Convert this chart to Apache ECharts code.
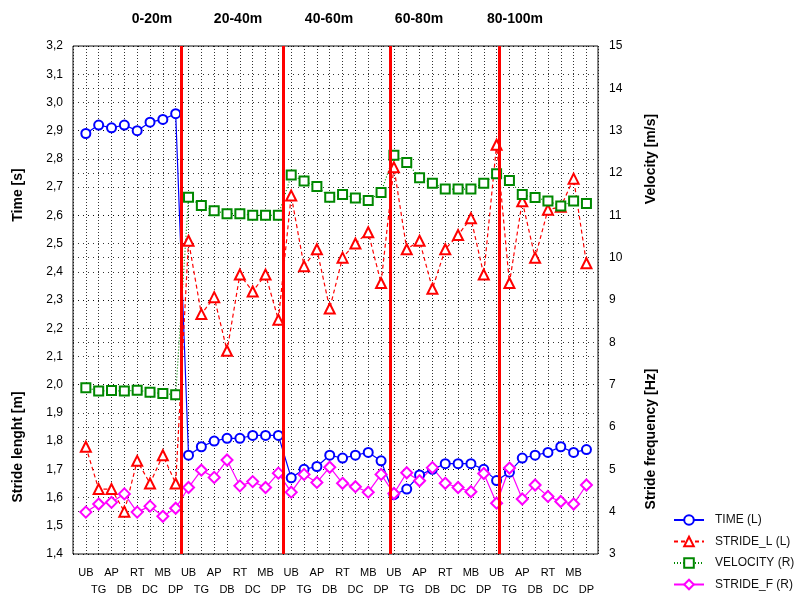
<!DOCTYPE html>
<html>
<head>
<meta charset="utf-8">
<script src="https://cdn.jsdelivr.net/npm/echarts@6/dist/echarts.min.js"></script>
<style>
html,body{margin:0;padding:0;background:#fff;}
#chart{width:808px;height:598px;}
</style>
</head>
<body>
<div id="chart"></div>
<script>
const phases = ['UB','TG','AP','DB','RT','DC','MB','DP'];
const sections = ['0-20m','20-40m','40-60m','60-80m','80-100m'];
const leftTicks = [1.4, 3.2, 0.1];
const rightTicks = [3, 15, 1];

const timeL = [
  2.89, 2.92, 2.91, 2.92, 2.90, 2.93, 2.94, 2.96,
  1.75, 1.78, 1.80, 1.81, 1.81, 1.82, 1.82, 1.82,
  1.67, 1.70, 1.71, 1.75, 1.74, 1.75, 1.76, 1.73,
  1.61, 1.63, 1.68, 1.70, 1.72, 1.72, 1.72, 1.70,
  1.66, 1.69, 1.74, 1.75, 1.76, 1.78, 1.76, 1.77
];
const strideL = [
  1.78, 1.63, 1.63, 1.55, 1.73, 1.65, 1.75, 1.65,
  2.51, 2.25, 2.31, 2.12, 2.39, 2.33, 2.39, 2.23,
  2.67, 2.42, 2.48, 2.27, 2.45, 2.50, 2.54, 2.36,
  2.77, 2.48, 2.51, 2.34, 2.48, 2.53, 2.59, 2.39,
  2.85, 2.36, 2.65, 2.45, 2.62, 2.63, 2.73, 2.43
];
const velocityR = [
  6.93, 6.85, 6.86, 6.85, 6.87, 6.82, 6.79, 6.76,
  11.43, 11.23, 11.11, 11.04, 11.04, 11.00, 11.00, 11.00,
  11.95, 11.81, 11.68, 11.43, 11.49, 11.41, 11.35, 11.54,
  12.42, 12.25, 11.89, 11.76, 11.62, 11.62, 11.62, 11.76,
  11.98, 11.82, 11.49, 11.42, 11.34, 11.22, 11.34, 11.28
];
const strideF = [
  3.99, 4.18, 4.22, 4.42, 3.99, 4.13, 3.89, 4.08,
  4.57, 4.98, 4.81, 5.22, 4.61, 4.71, 4.57, 4.91,
  4.46, 4.88, 4.69, 5.05, 4.67, 4.59, 4.46, 4.88,
  4.43, 4.92, 4.73, 5.04, 4.67, 4.57, 4.47, 4.90,
  4.20, 5.03, 4.30, 4.63, 4.36, 4.24, 4.18, 4.63
];
// section boundaries (red lines), in category-index units
const sectionBoundaries = [7.43, 15.39, 23.69, 32.17];

const categories = [];
sections.forEach(() => phases.forEach(p => categories.push(p)));
const pairs = arr => arr.map((v, i) => [i, v]);

const FONT = "'Liberation Sans', Arial, sans-serif";
const chart = echarts.init(document.getElementById('chart'), null, {renderer: 'canvas'});

const gridDot = {show: true, lineStyle: {color: '#000', type: [1, 4], width: 1, opacity: 0.8}};

const option = {
  backgroundColor: '#fff',
  animation: false,
  textStyle: {fontFamily: FONT},
  grid: {left: 73, right: 210, top: 46, bottom: 37, show: true, borderColor: '#111', borderWidth: 1, backgroundColor: 'transparent'},
  xAxis: {
    type: 'value', min: -1, max: 39.9, interval: 1,
    axisLine: {show: false}, axisTick: {show: false},
    splitLine: {show: true, lineStyle: {color: '#000', type: [1, 2], width: 1, opacity: 0.8}},
    axisLabel: {
      margin: 10, fontSize: 11, color: '#000', lineHeight: 17, fontFamily: FONT,
      formatter: v => {
        const i = Math.round(v);
        if (Math.abs(v - i) > 0.01 || i < 0 || i >= categories.length) return '';
        return i % 2 === 0 ? categories[i] : '\n' + categories[i];
      }
    }
  },
  yAxis: [
    {
      type: 'value', min: leftTicks[0], max: leftTicks[1], interval: leftTicks[2], position: 'left',
      axisLine: {show: false}, axisTick: {show: false},
      splitLine: gridDot,
      axisLabel: {margin: 10, fontSize: 12, color: '#000', fontFamily: FONT,
        formatter: v => v.toFixed(1).replace('.', ',')}
    },
    {
      type: 'value', min: rightTicks[0], max: rightTicks[1], interval: rightTicks[2], position: 'right',
      axisLine: {show: false}, axisTick: {show: false},
      splitLine: gridDot,
      axisLabel: {margin: 11, fontSize: 12, color: '#000', fontFamily: FONT}
    }
  ],
  legend: {
    orient: 'vertical', left: 668, top: 509, itemWidth: 30, itemHeight: 12, itemGap: 9.5,
    textStyle: {fontSize: 12, color: '#111', fontFamily: FONT, padding: [0, 0, 0, 6]},
    data: ['TIME (L)', 'STRIDE_L (L)', 'VELOCITY (R)', 'STRIDE_F (R)']
  },
  series: [
    {
      type: 'line', name: '__bounds', data: [], z: 1, silent: true,
      markLine: {
        silent: true, symbol: 'none', label: {show: false}, animation: false,
        lineStyle: {color: '#ff0000', width: 3, type: 'solid'},
        data: sectionBoundaries.map(x => ({xAxis: x}))
      }
    },
    {
      name: 'TIME (L)', type: 'line', yAxisIndex: 0, z: 3, data: pairs(timeL),
      symbol: 'emptyCircle', symbolSize: 9,
      lineStyle: {color: '#0000ff', width: 1.2},
      itemStyle: {color: '#0000ff', borderWidth: 1.4}
    },
    {
      name: 'STRIDE_L (L)', type: 'line', yAxisIndex: 0, z: 3, data: pairs(strideL),
      symbol: 'emptyTriangle', symbolSize: 10,
      lineStyle: {color: '#ff0000', width: 1.2, type: [4, 3]},
      itemStyle: {color: '#ff0000', borderWidth: 1.4}
    },
    {
      name: 'VELOCITY (R)', type: 'line', yAxisIndex: 1, z: 3, data: pairs(velocityR),
      symbol: 'emptyRect', symbolSize: 9,
      lineStyle: {color: '#008800', width: 1.2, type: [1, 2]},
      itemStyle: {color: '#008800', borderWidth: 1.5}
    },
    {
      name: 'STRIDE_F (R)', type: 'line', yAxisIndex: 1, z: 3, data: pairs(strideF),
      symbol: 'emptyDiamond', symbolSize: 11,
      lineStyle: {color: '#ff00ff', width: 1.2},
      itemStyle: {color: '#ff00ff', borderWidth: 1.3}
    }
  ],
  graphic: []
};

const titleX = [152, 238, 329, 419, 515];
const boldFont = "bold 14px " + FONT;
sections.forEach((s, i) => option.graphic.push({
  type: 'text', x: titleX[i], y: 19,
  style: {text: s, font: boldFont, fill: '#000', textAlign: 'center', textVerticalAlign: 'middle'}
}));
const axisNames = [
  {text: 'Time [s]', x: 18, y: 195},
  {text: 'Stride lenght [m]', x: 18, y: 447},
  {text: 'Velocity [m/s]', x: 651, y: 159},
  {text: 'Stride frequency [Hz]', x: 651, y: 439}
];
axisNames.forEach(a => option.graphic.push({
  type: 'text', x: a.x, y: a.y, rotation: Math.PI / 2,
  style: {text: a.text, font: boldFont, fill: '#000', textAlign: 'center', textVerticalAlign: 'middle'}
}));

chart.setOption(option);
</script>
</body>
</html>
